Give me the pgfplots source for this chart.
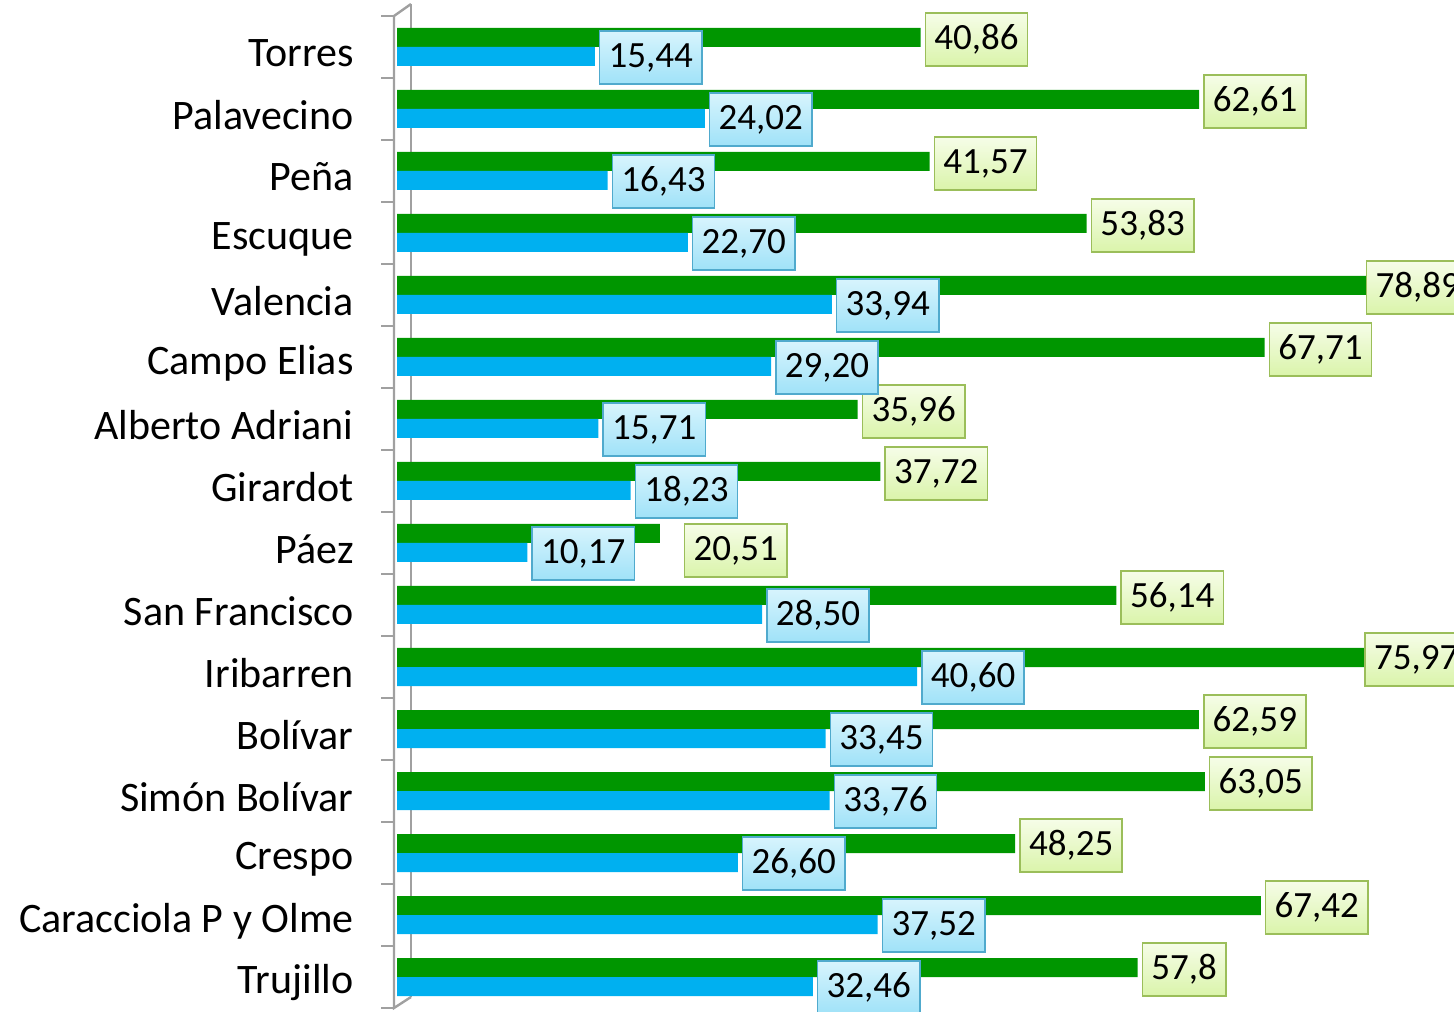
\documentclass[border=0pt]{standalone}
\usepackage{pgfplots}
\pgfplotsset{compat=1.18}
\usepackage{pgfplotstable}
\usepackage{fontspec}
\setmainfont{Carlito}

\definecolor{barG}{RGB}{0,150,0}
\definecolor{barB}{RGB}{0,176,240}
\definecolor{boxGt}{RGB}{246,253,232}
\definecolor{boxGb}{RGB}{218,244,170}
\definecolor{boxGd}{RGB}{155,190,90}
\definecolor{boxBt}{RGB}{215,244,253}
\definecolor{boxBb}{RGB}{160,226,248}
\definecolor{boxBd}{RGB}{80,170,205}
\definecolor{wall}{RGB}{160,160,160}

% green series: y, value, label text, label shifts (pt)
\pgfplotstableread{
y val lab dx dy
15 40.86 40,86 2 -1
14 62.61 62,61 2 -1
13 41.57 41,57 2 -1
12 53.83 53,83 2 -1
11 78.89 78,89 -21 -1
10 67.71 67,71 2 -1
9 35.96 35,96 2 -1
8 37.72 37,72 2 -1
7 20.51 20,51 12 -8.5
6 56.14 56,14 2 -1
5 75.97 75,97 -3 -1
4 62.59 62,59 2 -1
3 63.05 63,05 2 -1
2 48.25 48,25 2 -1
1 67.42 67,42 2 -1
0 57.8 57,8 2 -1
}\greendata

% blue series
\pgfplotstableread{
y val lab
15 15.44 15,44
14 24.02 24,02
13 16.43 16,43
12 22.70 22,70
11 33.94 33,94
10 29.20 29,20
9 15.71 15,71
8 18.23 18,23
7 10.17 10,17
6 28.50 28,50
5 40.60 40,60
4 33.45 33,45
3 33.76 33,76
2 26.60 26,60
1 37.52 37,52
0 32.46 32,46
}\bluedata

\begin{document}
\begin{tikzpicture}
\useasboundingbox (0,0) rectangle (727pt,505.5pt);
\begin{axis}[
    at={(198.5pt,1.5pt)}, anchor=south west,
    scale only axis,
    width=528.5pt, height=496pt,
    xmin=0, xmax=82.5,
    ymin=-0.5, ymax=15.5,
    clip=false,
    xbar,
    axis x line=none,
    axis y line*=left,
    y axis line style={draw=none},
    ytick={0,...,15},
    yticklabels={Trujillo,Caracciola P y Olme,Crespo,Simón Bolívar,Bolívar,Iribarren,San Francisco,Páez,Girardot,Alberto Adriani,Campo Elias,Valencia,Escuque,Peña,Palavecino,Torres},
    major tick length=0pt,
    yticklabel style={font=\fontsize{21}{24}\selectfont, inner sep=0pt, anchor=east, xshift=-21.5pt, yshift=-3pt},
    extra y ticks={-0.5,0.5,...,15.5},
    extra y tick labels={},
    extra y tick style={major tick length=6.5pt, tick align=outside, tick style={wall, line width=0.8pt}, xshift=-1.5pt},
    bar width=9.5pt,
    point meta=explicit symbolic,
    nodes near coords,
]
% 3D wall lines
\draw[wall, line width=1.2pt] ([xshift=7pt,yshift=6pt]axis cs:0,15.5) -- ([xshift=7pt,yshift=5.5pt]axis cs:0,-0.5);
\draw[wall, line width=1.2pt] ([xshift=-1.5pt]axis cs:0,15.5) -- ([xshift=-1.5pt]axis cs:0,-0.5)
    -- ([xshift=7pt,yshift=5.5pt]axis cs:0,-0.5);
\draw[wall, line width=1.2pt] ([xshift=-1.5pt]axis cs:0,15.5) -- ([xshift=7pt,yshift=6pt]axis cs:0,15.5);

\addplot[
    fill=barG, draw=none, bar shift=4.75pt,
    visualization depends on={\thisrow{dx} \as \dx},
    visualization depends on={\thisrow{dy} \as \dy},
    every node near coord/.append style={
        font=\fontsize{18.5}{20}\selectfont, text=black,
        anchor=west, xshift=\dx pt, yshift=\dy pt,
        draw=boxGd, line width=0.8pt, top color=boxGt, bottom color=boxGb,
        inner xsep=4.5pt, minimum height=26.5pt},
] table[x=val, y=y, meta=lab] {\greendata};

\addplot[
    fill=barB, draw=none, bar shift=-4.75pt,
    every node near coord/.append style={
        font=\fontsize{18.5}{20}\selectfont, text=black,
        anchor=west, xshift=2pt, yshift=-0.5pt,
        draw=boxBd, line width=0.8pt, top color=boxBt, bottom color=boxBb,
        inner xsep=4.5pt, minimum height=26.5pt},
] table[x=val, y=y, meta=lab] {\bluedata};
\end{axis}
\end{tikzpicture}
\end{document}
